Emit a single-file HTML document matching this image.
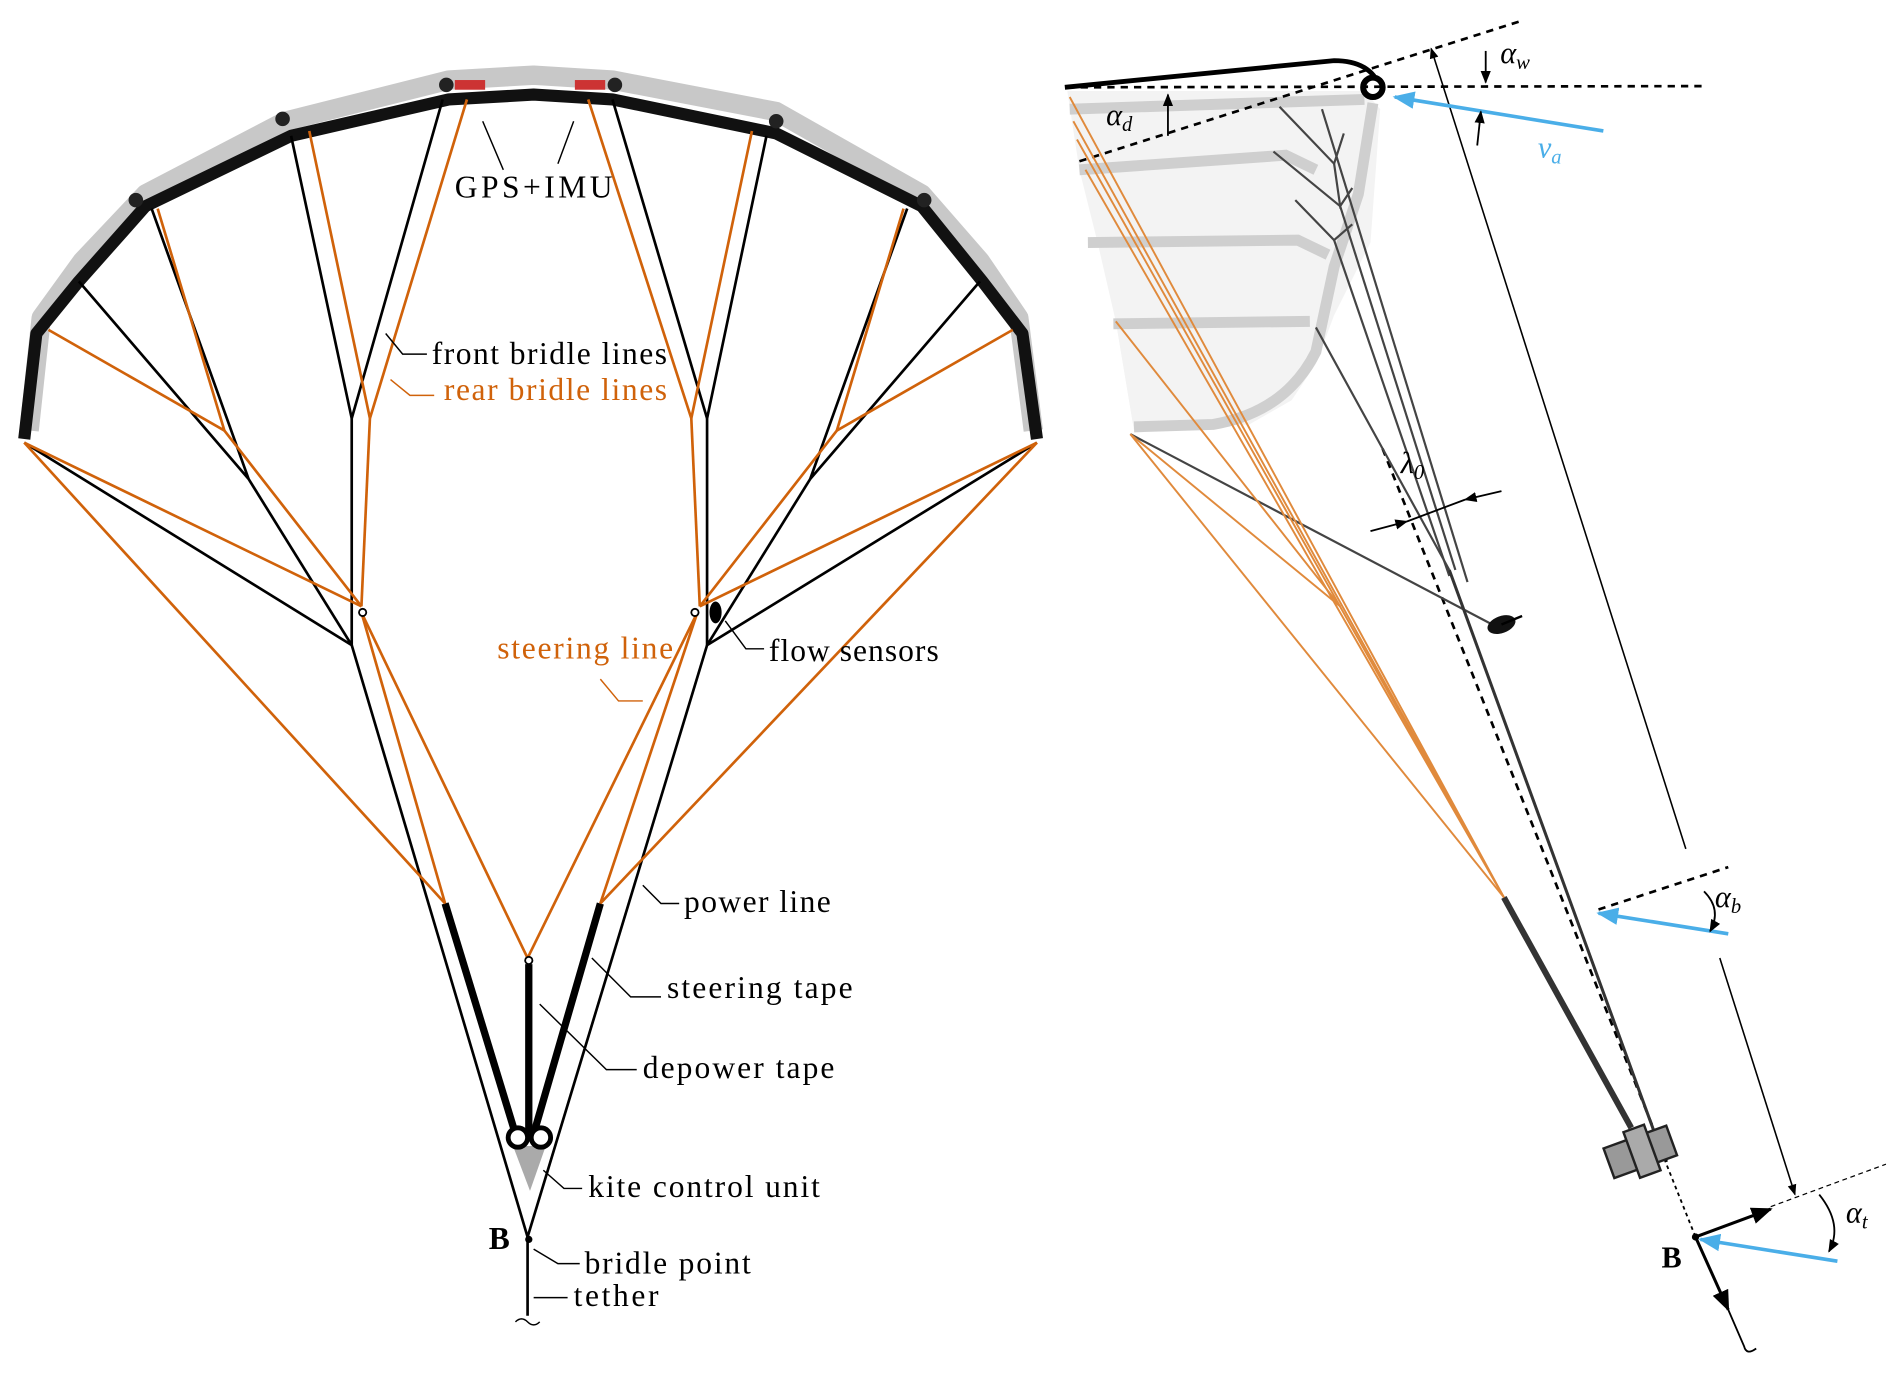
<!DOCTYPE html>
<html><head><meta charset="utf-8"><style>
html,body{margin:0;padding:0;background:#fff;}
svg{display:block;}
text{font-family:"Liberation Serif",serif;}
</style></head><body>
<svg width="1892" height="1374" viewBox="0 0 1560 1133" preserveAspectRatio="none" xmlns="http://www.w3.org/2000/svg">
<defs>
<marker id="ah" viewBox="0 0 10 10" refX="9" refY="5" markerWidth="7" markerHeight="7" orient="auto-start-reverse"><path d="M0,1 L10,5 L0,9 z" fill="#000"/></marker>
<marker id="ab" viewBox="0 0 10 10" refX="9" refY="5" markerWidth="6" markerHeight="6" orient="auto"><path d="M0,1 L10,5 L0,9 z" fill="#4aaee8"/></marker>
</defs>
<!-- LEFT KITE canopy -->
<path d="M24,355 L34,262 L68,215 L120,160 L235,100 L370,66 L440,62 L505,66 L640,92 L760,160 L808,215 L840,262 L852,355" fill="none" stroke="#c8c8c8" stroke-width="16" stroke-linejoin="round"/>
<path d="M20,362 L30,275 L65,232 L120,170 L240,112 L370,82 L440,78 L505,82 L640,110 L760,170 L810,232 L843,275 L855,362" fill="none" stroke="#111" stroke-width="10" stroke-linejoin="round"/>
<rect x="375" y="66" width="25" height="8" fill="#c33"/><rect x="474" y="66" width="25" height="8" fill="#c33"/>
<g fill="#222"><circle cx="368" cy="70" r="6"/><circle cx="507" cy="70" r="6"/><circle cx="233" cy="98" r="6"/><circle cx="640" cy="100" r="6"/><circle cx="112" cy="165" r="6"/><circle cx="762" cy="165" r="6"/></g>
<g stroke="#000" stroke-width="2.2" fill="none">
<path d="M365,82 L290,345 L240,112"/><path d="M290,345 L290,532 L20,365"/>
<path d="M65,232 L205,395 L125,172"/><path d="M205,395 L290,532"/>
<path d="M290,532 L435,1020"/>
<path d="M505,82 L583,345 L632,112"/><path d="M583,345 L583,532 L855,365"/>
<path d="M808,232 L668,395 L748,172"/><path d="M668,395 L583,532"/>
<path d="M583,532 L435,1020"/>
<path d="M435,1020 L435,1085"/>
</g>
<g stroke="#000" stroke-width="6"><line x1="367" y1="745" x2="425" y2="935"/><line x1="495" y1="745" x2="440" y2="935"/><line x1="436" y1="795" x2="436" y2="935"/></g>
<path d="M423,945 L450,945 L437,982 Z" fill="#aaa"/>
<circle cx="427" cy="938" r="8" fill="#fff" stroke="#000" stroke-width="4"/><circle cx="446" cy="938" r="8" fill="#fff" stroke="#000" stroke-width="4"/>
<g stroke="#d0620a" stroke-width="2.2" fill="none">
<path d="M255,108 L305,345 L385,82"/><path d="M305,345 L298,500"/>
<path d="M130,172 L185,355 L40,272"/><path d="M185,355 L298,500 L20,365"/>
<path d="M20,365 L367,745"/><path d="M298,505 L435,790"/><path d="M298,505 L367,745"/>
<path d="M620,108 L570,345 L485,82"/><path d="M570,345 L577,500"/>
<path d="M745,172 L690,355 L835,272"/><path d="M690,355 L577,500 L855,365"/>
<path d="M855,365 L495,745"/><path d="M575,505 L435,790"/><path d="M575,505 L495,745"/>
</g>
<circle cx="299" cy="505" r="3" fill="#fff" stroke="#000" stroke-width="1.5"/>
<circle cx="573" cy="505" r="3" fill="#fff" stroke="#000" stroke-width="1.5"/>
<circle cx="436" cy="792" r="3" fill="#fff" stroke="#000" stroke-width="1.5"/>
<ellipse cx="590" cy="505" rx="5" ry="9" fill="#000"/>
<circle cx="436" cy="1022" r="3" fill="#000"/>
<g stroke="#000" stroke-width="1.2" fill="none">
<path d="M398,100 L415,140"/><path d="M473,100 L460,135"/>
<path d="M318,275 L332,292 L352,292"/>
<path d="M598,512 L615,535 L630,535"/>
<path d="M530,730 L545,745 L560,745"/>
<path d="M488,790 L520,822 L545,822"/>
<path d="M445,828 L500,882 L525,882"/>
<path d="M448,965 L465,980 L480,980"/>
<path d="M440,1030 L460,1042 L478,1042"/>
<path d="M440,1070 L468,1070"/>
<path d="M425,1090 Q430,1085 435,1090 Q440,1095 445,1090"/>
</g>
<path d="M322,313 L338,326 L358,326" stroke="#d0620a" stroke-width="1.2" fill="none"/>
<path d="M495,560 L510,578 L530,578" stroke="#d0620a" stroke-width="1.2" fill="none"/>
<g font-size="26" fill="#000">
<text x="375" y="163" textLength="130">GPS+IMU</text>
<text x="356" y="300" textLength="194">front bridle lines</text>
<text x="366" y="330" fill="#d0620a" textLength="184">rear bridle lines</text>
<text x="410" y="543" fill="#d0620a" textLength="145">steering line</text>
<text x="634" y="545" textLength="140">flow sensors</text>
<text x="564" y="752" textLength="121">power line</text>
<text x="550" y="823" textLength="153">steering tape</text>
<text x="530" y="889" textLength="158">depower tape</text>
<text x="485" y="987" textLength="191">kite control unit</text>
<text x="403" y="1030" font-weight="bold">B</text>
<text x="482" y="1050" textLength="137">bridle point</text>
<text x="473" y="1077" textLength="70">tether</text>
</g>
<!-- RIGHT side view -->
<path d="M880,75 L1125,75 L1138,90 L1130,200 L1100,260 L1085,300 L1065,330 L1030,350 L935,355 L920,265 L905,200 L890,140 Z" fill="#f3f3f3"/>
<g stroke="#cfcfcf" stroke-width="9" fill="none">
<path d="M882,90 L1125,82"/><path d="M890,140 L1060,128 L1085,140"/><path d="M897,200 L1070,198 L1095,210"/>
<path d="M918,267 L1080,265"/><path d="M1132,85 L1120,160 L1100,220 L1085,290 Q1060,340 1000,350 L935,352"/>
</g>
<path d="M878,72 Q1000,60 1100,50 Q1130,50 1138,72" fill="none" stroke="#000" stroke-width="4"/>
<circle cx="1132" cy="72" r="8" fill="#fff" stroke="#000" stroke-width="5"/>
<g stroke="#000" stroke-width="2.2" stroke-dasharray="6,5" fill="none">
<line x1="880" y1="72" x2="1405" y2="71"/><line x1="890" y1="133" x2="1255" y2="17"/>
<line x1="1140" y1="370" x2="1375" y2="960"/>
<line x1="1318" y1="750" x2="1425" y2="715"/>
</g>
<line x1="1460" y1="995" x2="1555" y2="960" stroke="#000" stroke-width="1" stroke-dasharray="4,3"/>
<g stroke="#444" stroke-width="1.8" fill="none">
<path d="M1055,88 L1100,135 L1108,110"/><path d="M1100,135 L1105,170 L1115,155"/><path d="M1050,125 L1105,170"/>
<path d="M1068,165 L1100,198 L1115,185"/><path d="M1100,198 L1195,475"/>
<path d="M1105,170 L1200,470"/><path d="M1090,90 L1210,480"/>
<path d="M1085,270 L1195,470"/>
<path d="M932,358 L1240,520"/>
</g>
<line x1="1195" y1="470" x2="1370" y2="950" stroke="#333" stroke-width="2.5"/>
<line x1="1240" y1="740" x2="1345" y2="930" stroke="#333" stroke-width="5"/>
<g stroke="#e08a3c" stroke-width="1.6" fill="none">
<path d="M882,80 L1240,740"/><path d="M885,100 L1240,740"/><path d="M888,115 L1240,740"/><path d="M895,140 L1240,740"/>
<path d="M920,265 L1105,500"/><path d="M932,358 L1105,500"/><path d="M932,358 L1240,740"/>
</g>
<ellipse cx="1238" cy="515" rx="12" ry="7" fill="#111" transform="rotate(-20 1238 515)"/>
<line x1="1238" y1="515" x2="1255" y2="508" stroke="#000" stroke-width="2"/>
<line x1="1180" y1="40" x2="1390" y2="700" stroke="#000" stroke-width="1.3" marker-start="url(#ah)"/>
<line x1="1418" y1="790" x2="1480" y2="985" stroke="#000" stroke-width="1.3" marker-end="url(#ah)"/>
<line x1="1370" y1="950" x2="1398" y2="1020" stroke="#000" stroke-width="1.5" stroke-dasharray="3,3"/>
<line x1="1398" y1="1020" x2="1460" y2="997" stroke="#000" stroke-width="2.5" marker-end="url(#ah)"/>
<line x1="1398" y1="1020" x2="1425" y2="1080" stroke="#000" stroke-width="2.5" marker-end="url(#ah)"/>
<path d="M1425,1080 L1438,1110 Q1440,1118 1448,1112" fill="none" stroke="#000" stroke-width="1.5"/>
<circle cx="1398" cy="1020" r="3" fill="#000"/>
<g transform="rotate(-20 1352 950)">
<rect x="1325" y="937" width="55" height="26" fill="#999" stroke="#222" stroke-width="2"/>
<rect x="1345" y="930" width="18" height="40" fill="#aaa" stroke="#222" stroke-width="2"/>
</g>
<g stroke="#4aaee8" stroke-width="3"><line x1="1322" y1="108" x2="1150" y2="80" marker-end="url(#ab)"/>
<line x1="1425" y1="770" x2="1318" y2="753" marker-end="url(#ab)"/>
<line x1="1515" y1="1040" x2="1402" y2="1022" marker-end="url(#ab)"/></g>
<g stroke="#000" stroke-width="1.5" fill="none">
<path d="M963,112 L963,78" marker-end="url(#ah)"/>
<path d="M1225,42 L1225,68" marker-end="url(#ah)"/><path d="M1218,120 L1221,92" marker-end="url(#ah)"/>
<path d="M1130,438 L1160,430" marker-end="url(#ah)"/><path d="M1238,405 L1208,412" marker-end="url(#ah)"/>
<path d="M1160,430 L1208,412"/>
<path d="M1405,735 Q1420,750 1410,768" marker-end="url(#ah)"/>
<path d="M1500,985 Q1520,1010 1508,1032" marker-end="url(#ah)"/>
</g>
<g font-size="25" font-style="italic">
<text x="912" y="103">α<tspan font-size="17" dy="5">d</tspan></text>
<text x="1237" y="52">α<tspan font-size="17" dy="5">w</tspan></text>
<text x="1268" y="130" fill="#4aaee8">v<tspan font-size="17" dy="5">a</tspan></text>
<text x="1155" y="390">λ<tspan font-size="17" dy="5">0</tspan></text>
<text x="1414" y="748">α<tspan font-size="17" dy="5">b</tspan></text>
<text x="1522" y="1008">α<tspan font-size="17" dy="5">t</tspan></text>
</g>
<text x="1370" y="1045" font-size="25" font-weight="bold">B</text>
</svg>
</body></html>
